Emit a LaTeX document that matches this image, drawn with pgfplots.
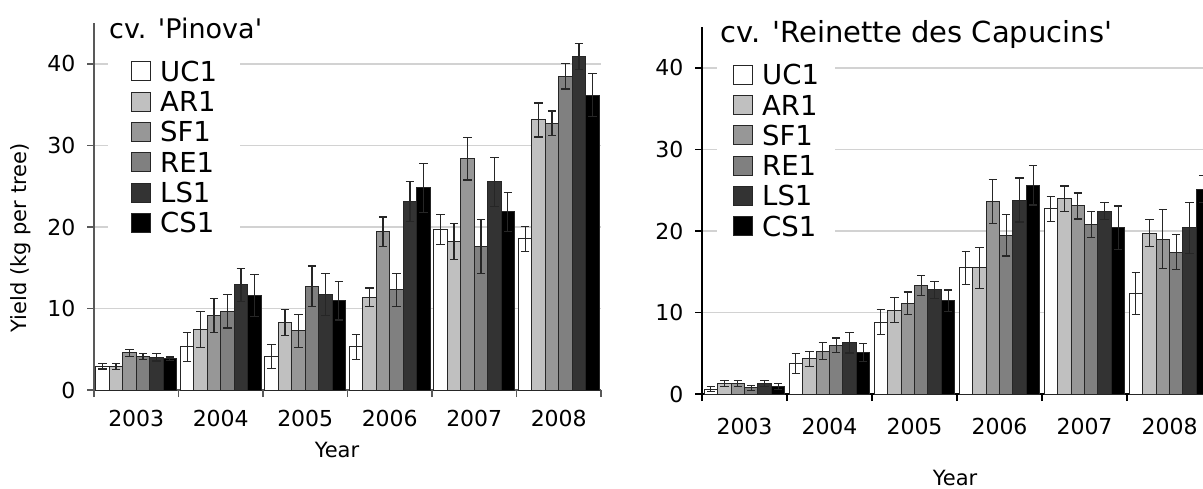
\documentclass[border=0pt]{standalone}
\usepackage{fontspec}
\setmainfont{DejaVu Sans}
\usepackage{pgfplots}
\usepackage{pgfplotstable}
\pgfplotsset{compat=1.18}
\definecolor{cAR}{HTML}{C0C0C0}
\definecolor{cSF}{HTML}{979797}
\definecolor{cRE}{HTML}{808080}
\definecolor{cLS}{HTML}{333333}
\definecolor{gridc}{HTML}{D2D2D2}

\pgfplotstableread{
x UC1 UC1e AR1 AR1e SF1 SF1e RE1 RE1e LS1 LS1e CS1 CS1e
0 2.9 0.33 2.9 0.4 4.55 0.42 4.13 0.35 4.0 0.45 3.84 0.2
1 5.3 1.78 7.4 2.19 9.16 2.09 9.65 2.05 12.92 2.02 11.57 2.6
2 4.1 1.49 8.3 1.6 7.24 2.07 12.72 2.5 11.74 2.58 10.96 2.37
3 5.32 1.53 11.37 1.15 19.43 1.8 12.31 2.02 23.15 2.45 24.79 2.99
4 19.71 1.84 18.24 2.23 28.38 2.62 17.63 3.29 25.56 3.0 21.84 2.37
5 18.53 1.57 33.13 2.09 32.72 1.51 38.49 1.55 40.9 1.6 36.16 2.65
}\pin

\pgfplotstableread{
x UC1 UC1e AR1 AR1e SF1 SF1e RE1 RE1e LS1 LS1e CS1 CS1e
0 0.6 0.3 1.3 0.35 1.3 0.4 0.74 0.27 1.3 0.35 0.92 0.37
1 3.76 1.2 4.3 0.93 5.25 1.03 6.0 0.87 6.28 1.24 5.12 1.12
2 8.83 1.54 10.3 1.5 11.14 1.37 13.35 1.22 12.78 1.02 11.47 1.3
3 15.47 2.0 15.47 2.5 23.63 2.7 19.5 2.57 23.8 2.7 25.6 2.4
4 22.74 1.53 23.97 1.55 23.07 1.6 20.82 1.6 22.45 1.06 20.4 2.66
5 12.35 2.6 19.75 1.64 18.98 3.62 17.38 2.15 20.37 3.13 25.15 1.68
}\rei

\pgfplotsset{
  yieldaxis/.style={
    scale only axis, height=367pt,
    ymin=0, ymax=45.03, xmin=-0.5,
    axis x line*=bottom, axis y line*=left,
    ytick={0,10,20,30,40},
    ymajorgrids, grid style={gridc, line width=1.1pt},
    xtick={-0.5,0.5,1.5,2.5,3.5,4.5,5.5},
    xticklabels={2003,2004,2005,2006,2007,2008,},
    tick align=outside, major tick length=7pt,
    tick label style={font=\fontsize{22pt}{24pt}\selectfont},
    yticklabel style={xshift=-8pt},
    /pgf/number format/assume math mode=true,
    ybar=0pt, bar width=13.45pt,
    error bars/y dir=both, error bars/y explicit,
    error bars/error bar style={line width=1.2pt, black!85},
    error bars/error mark options={rotate=90, mark size=4.2pt, line width=1.2pt, black!85},
    legend cell align=left,
    legend style={draw=none, fill=white, anchor=north west,
      inner ysep=0pt, column sep=9pt,
      font=\fontsize{27.5pt}{30pt}\selectfont,
      nodes={inner sep=0pt, anchor=west, text height=25.15pt, text depth=5.15pt}},
  },
  limg/.style={legend image code/.code={
      \draw[black!85,line width=1pt,fill=#1] (0pt,-9.5pt) rectangle (19pt,9.5pt);}},
  barsty/.style={draw=black!85, line width=1pt, fill=#1, limg=#1},
}

\begin{document}
\begin{tikzpicture}[x=1pt,y=1pt]
% ---------- left: Pinova ----------
\begin{axis}[yieldaxis,
  at={(94pt,98pt)}, anchor=south west, width=507pt, xmax=5.5,
  axis line style={black!65, line width=1.3pt},
  major tick style={black!65, line width=1.3pt},
  xticklabel style={xshift=42.25pt, yshift=-10pt},
  legend style={at={(0.0276,0.91)}, inner xsep=23pt},
]
\addplot[barsty=white] table[x=x,y=UC1,y error=UC1e]{\pin};
\addplot[barsty=cAR] table[x=x,y=AR1,y error=AR1e]{\pin};
\addplot[barsty=cSF] table[x=x,y=SF1,y error=SF1e]{\pin};
\addplot[barsty=cRE] table[x=x,y=RE1,y error=RE1e]{\pin};
\addplot[barsty=cLS] table[x=x,y=LS1,y error=LS1e]{\pin};
\addplot[barsty=black] table[x=x,y=CS1,y error=CS1e]{\pin};
\legend{UC1,AR1,SF1,RE1,LS1,CS1}
\end{axis}
% ---------- right: Reinette des Capucins ----------
\begin{axis}[yieldaxis,
  at={(702pt,94pt)}, anchor=south west, width=501pt, xmax=5.394,
  axis line style={black, line width=1.1pt},
  major tick style={black, line width=1.1pt},
  xticklabel style={xshift=42.5pt, yshift=-14pt},
  legend style={at={(0.0299,0.9117)}, inner xsep=16pt},
]
\addplot[barsty=white] table[x=x,y=UC1,y error=UC1e]{\rei};
\addplot[barsty=cAR] table[x=x,y=AR1,y error=AR1e]{\rei};
\addplot[barsty=cSF] table[x=x,y=SF1,y error=SF1e]{\rei};
\addplot[barsty=cRE] table[x=x,y=RE1,y error=RE1e]{\rei};
\addplot[barsty=cLS] table[x=x,y=LS1,y error=LS1e]{\rei};
\addplot[barsty=black] table[x=x,y=CS1,y error=CS1e]{\rei};
\legend{UC1,AR1,SF1,RE1,LS1,CS1}
\end{axis}
% titles and labels
\node[anchor=base west, font=\fontsize{27pt}{30pt}\selectfont, inner sep=0pt] at (109,449) {cv. \textquotesingle Pinova\textquotesingle};
\node[anchor=base west, font=\fontsize{29pt}{31pt}\selectfont, inner sep=0pt] at (720,445) {cv. \textquotesingle Reinette des Capucins\textquotesingle};
\node[rotate=90, font=\fontsize{21pt}{23pt}\selectfont, inner sep=0pt] at (21,250) {Yield (kg per tree)};
\node[anchor=base, font=\fontsize{21pt}{23pt}\selectfont, inner sep=0pt] at (337,31) {Year};
\node[anchor=base, font=\fontsize{21pt}{23pt}\selectfont, inner sep=0pt] at (955,3) {Year};
\pgfresetboundingbox
\path[use as bounding box] (0,0) rectangle (1203,488);
\end{tikzpicture}
\end{document}
